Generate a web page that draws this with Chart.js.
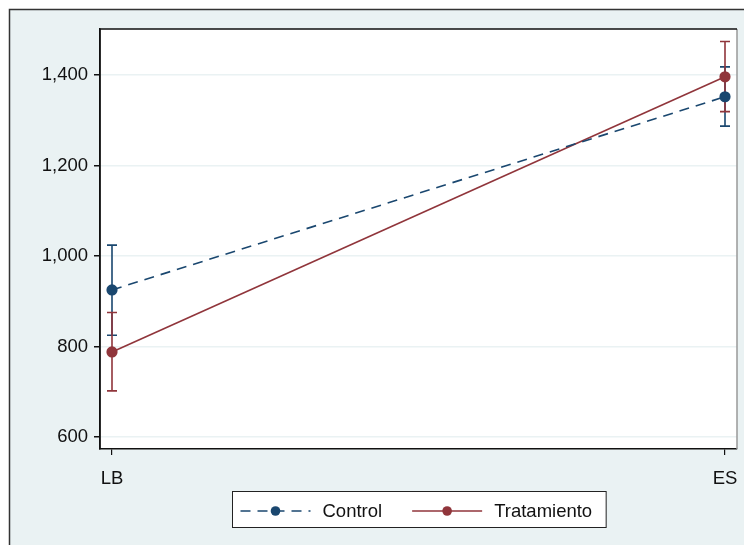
<!DOCTYPE html>
<html>
<head>
<meta charset="utf-8">
<script src="https://cdn.jsdelivr.net/npm/chart.js@4"></script>
<style>
  html, body { margin: 0; padding: 0; background: #fff; }
  #wrap { width: 744px; height: 545px; }
</style>
</head>
<body>
<div id="wrap"><canvas id="chart" width="744" height="545"></canvas></div>
<script>
const categories = ['LB', 'ES'];
const seriesNames = ['Control', 'Tratamiento'];
const controlMean = [925, 1352];
const controlLow = [825, 1287];
const controlHigh = [1024, 1418];
const treatMean = [788, 1396];
const treatLow = [702, 1319];
const treatHigh = [875, 1474];
const yTicks = [600, 800, 1000, 1200, 1400];

const navy = '#1a476f';
const maroon = '#90353b';
const bg = '#eaf2f3';
const FONT = 'Liberation Sans, Arial, sans-serif';
const FSIZE = 18.5;

const toPoints = (vals) => vals.map((v, i) => ({ x: i, y: v }));

const chartData = {
  datasets: [
    {
      label: seriesNames[0],
      data: toPoints(controlMean),
      low: controlLow,
      high: controlHigh,
      borderColor: navy,
      backgroundColor: navy,
      borderWidth: 1.6,
      borderDash: [10, 7],
      pointRadius: 4.8,
      pointHoverRadius: 4.8,
    },
    {
      label: seriesNames[1],
      data: toPoints(treatMean),
      low: treatLow,
      high: treatHigh,
      borderColor: maroon,
      backgroundColor: maroon,
      borderWidth: 1.6,
      pointRadius: 4.8,
      pointHoverRadius: 4.8,
    },
  ],
};

// background, frame and plot region
const frame = {
  id: 'frame',
  beforeDraw(chart) {
    const { ctx, chartArea: a } = chart;
    ctx.save();
    ctx.fillStyle = bg;
    ctx.fillRect(9, 9, 800, 600);
    ctx.strokeStyle = '#333';
    ctx.lineWidth = 1.5;
    ctx.strokeRect(9.5, 9.5, 800, 600);
    ctx.fillStyle = '#fff';
    ctx.fillRect(a.left, a.top, a.right - a.left, a.bottom - a.top);
    ctx.restore();
  },
  afterDraw(chart) {
    const { ctx, chartArea: a } = chart;
    ctx.save();
    ctx.lineWidth = 1.5;
    ctx.strokeStyle = '#999';
    ctx.beginPath();
    ctx.moveTo(a.right, a.top);
    ctx.lineTo(a.right, a.bottom);
    ctx.stroke();
    ctx.strokeStyle = '#111';
    ctx.beginPath();
    ctx.moveTo(a.left, a.bottom);
    ctx.lineTo(a.left, a.top);
    ctx.lineTo(a.right, a.top);
    ctx.stroke();
    ctx.restore();
  },
};

// confidence interval bars
const errorBars = {
  id: 'errorBars',
  beforeDatasetsDraw(chart) {
    const { ctx, scales } = chart;
    ctx.save();
    ctx.lineWidth = 1.6;
    chart.data.datasets.forEach((ds) => {
      ctx.strokeStyle = ds.borderColor;
      ds.data.forEach((p, i) => {
        const x = scales.x.getPixelForValue(p.x);
        const y1 = scales.y.getPixelForValue(ds.low[i]);
        const y2 = scales.y.getPixelForValue(ds.high[i]);
        ctx.beginPath();
        ctx.moveTo(x, y1); ctx.lineTo(x, y2);
        ctx.moveTo(x - 5, y1); ctx.lineTo(x + 5, y1);
        ctx.moveTo(x - 5, y2); ctx.lineTo(x + 5, y2);
        ctx.stroke();
      });
    });
    ctx.restore();
  },
};

// boxed legend under the plot
const boxLegend = {
  id: 'boxLegend',
  afterDraw(chart) {
    const { ctx, chartArea: a } = chart;
    const dss = chart.data.datasets;
    ctx.save();
    ctx.font = FSIZE + 'px ' + FONT;
    const lineW = 70, gapText = 12, gapItem = 30, padL = 8, padR = 14;
    const widths = dss.map((d) => ctx.measureText(d.label).width);
    const total = padL + padR + widths.reduce((s, w) => s + lineW + gapText + w, 0) + gapItem * (dss.length - 1);
    const left = Math.round((a.left + a.right) / 2 - total / 2) + 0.5;
    const top = 491.5, h = 36, cy = 511;
    ctx.fillStyle = '#fff';
    ctx.fillRect(left, top, total, h);
    ctx.strokeStyle = '#222';
    ctx.lineWidth = 1;
    ctx.strokeRect(left, top, total, h);
    let x = left + padL;
    dss.forEach((d, i) => {
      ctx.strokeStyle = d.borderColor;
      ctx.lineWidth = 1.6;
      ctx.setLineDash(d.borderDash || []);
      ctx.beginPath();
      ctx.moveTo(x, cy); ctx.lineTo(x + lineW, cy);
      ctx.stroke();
      ctx.setLineDash([]);
      ctx.fillStyle = d.backgroundColor;
      ctx.beginPath();
      ctx.arc(x + lineW / 2, cy, 4.8, 0, Math.PI * 2);
      ctx.fill();
      ctx.fillStyle = '#111';
      ctx.textBaseline = 'middle';
      ctx.fillText(d.label, x + lineW + gapText, cy + 1);
      x += lineW + gapText + widths[i] + gapItem;
    });
    ctx.restore();
  },
};

const pad = 12 / 613;

const chartConfig = {
  type: 'line',
  data: chartData,
  options: {
    responsive: false,
    animation: false,
    layout: { padding: { left: 0, top: 29, right: 7, bottom: 0 } },
    scales: {
      x: {
        type: 'linear',
        min: -pad,
        max: 1 + pad,
        afterBuildTicks: (s) => { s.ticks = categories.map((c, i) => ({ value: i })); },
        afterFit: (s) => { s.height = 96; s.paddingLeft = 0; s.paddingRight = 0; },
        ticks: {
          callback: (v) => categories[v],
          color: '#111',
          font: { family: FONT, size: FSIZE },
          padding: 13,
          maxRotation: 0,
        },
        grid: { drawOnChartArea: false, drawTicks: true, tickLength: 6, tickColor: '#111', lineWidth: 1.2 },
        border: { display: true, color: '#111', width: 1.5 },
      },
      y: {
        min: 573.5,
        max: 1501.7,
        afterBuildTicks: (s) => { s.ticks = yTicks.map((v) => ({ value: v })); },
        afterFit: (s) => { s.width = 100; s.paddingTop = 0; s.paddingBottom = 0; },
        ticks: {
          callback: (v) => v.toLocaleString('en-US'),
          color: '#111',
          font: { family: FONT, size: FSIZE },
          padding: 6,
        },
        grid: { color: bg, lineWidth: 1.5, drawTicks: true, tickLength: 6, tickColor: '#111' },
        border: { display: true, color: '#111', width: 1.5 },
      },
    },
    plugins: {
      legend: { display: false },
      tooltip: { enabled: false },
    },
  },
  plugins: [frame, errorBars, boxLegend],
};

const chart = new Chart(document.getElementById('chart'), chartConfig);
</script>
</body>
</html>
